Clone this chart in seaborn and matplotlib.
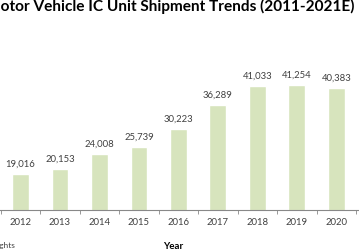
import pandas as pd
import matplotlib
matplotlib.use('Agg')
import matplotlib.pyplot as plt
import seaborn as sns

# values (2011 and 2021E bars fall outside the crop)
years = ['2012', '2013', '2014', '2015', '2016', '2017', '2018', '2019', '2020']
shipments = [19016, 20153, 24008, 25739, 30223, 36289, 41033, 41254, 40383]
title_text = 'Motor Vehicle IC Unit Shipment Trends (2011-2021E)'
source_text = 'Source: IC Insights'

df = pd.DataFrame({'year': years, 'units': shipments})

sns.set_style('white')
plt.rcParams['font.family'] = ['Lato', 'DejaVu Sans']

fig = plt.figure(figsize=(3.59, 2.5), dpi=100)
ax = fig.add_axes([0, 0.16, 1, 0.64])

sns.barplot(data=df, x='year', y='units', color='#D7E4BD', width=0.43,
            saturation=1, ax=ax)

ax.bar_label(ax.containers[0], labels=[f'{v:,}' for v in shipments],
             padding=4, fontsize=6.8, color='#404040')

ax.set_ylim(10000, 50000)
ax.set_xlim(-0.519, 8.57)
ax.set_yticks([])
ax.set_xlabel('')
ax.set_ylabel('')
for s in ['top', 'left', 'right']:
    ax.spines[s].set_visible(False)
ax.spines['bottom'].set_color('#888888')
ax.spines['bottom'].set_linewidth(0.8)

# ticks between categories, labels at centers
ax.set_xticks([i - 0.5 for i in range(len(years) + 1)], minor=True)
ax.tick_params(axis='x', which='major', length=0, labelsize=6.8,
               labelcolor='#404040', pad=6)
ax.tick_params(axis='x', which='minor', length=3, color='#888888', bottom=True)

fig.text(354 / 359, 1 - 11 / 250, title_text, ha='right', va='baseline',
         fontsize=11.1, fontweight='bold', color='black')
fig.text(15 / 359, 1 - 248 / 250, source_text, ha='right', va='baseline',
         fontsize=6, color='#404040')
fig.text(173 / 359, 1 - 249 / 250, 'Year', ha='center', va='baseline',
         fontsize=7, fontweight='bold', color='black')

fig.savefig('out.png', dpi=100)
